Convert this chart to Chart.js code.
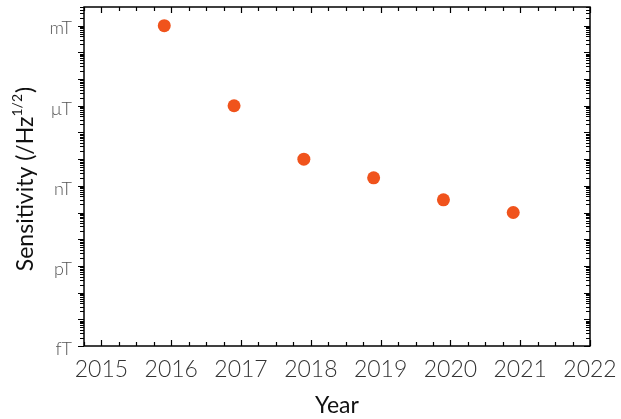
<!DOCTYPE html>
<html>
<head>
<meta charset="utf-8">
<script src="https://cdn.jsdelivr.net/npm/chart.js@4.4.1/dist/chart.umd.min.js"></script>
<style>
    html, body { margin: 0; padding: 0; background: #fff; }
    #wrap { width: 621px; height: 419px; position: relative; }
</style>
</head>
<body>
<div id="wrap"><canvas id="sensChart"></canvas></div>
<script>
// Data
const years = [2015.9, 2016.9, 2017.9, 2018.9, 2019.9, 2020.9];
const sensitivity = [1e-3, 1e-6, 1e-8, 2e-9, 3e-10, 1e-10];

const yearTicks = [2015, 2016, 2017, 2018, 2019, 2020, 2021, 2022];
const unitValues = [1e-15, 1e-12, 1e-9, 1e-6, 1e-3];
const unitLabels = ['fT', 'pT', 'nT', 'μT', 'mT'];

const X_MIN = 2014.75;
const X_MAX = 2022;
const Y_MIN = 1e-15;
const Y_MAX = 5e-3;

const POINT_COLOR = '#F0531C';
const FONT = "Lato, 'Open Sans', sans-serif";

// quarter-year ticks, labels only on whole years
function buildXTicks(scale) {
    const ticks = [];
    for (let i = 0; X_MIN + i * 0.25 <= X_MAX + 1e-9; i++) {
        ticks.push({ value: +(X_MIN + i * 0.25).toFixed(2) });
    }
    scale.ticks = ticks;
}

// 1..9 per decade, labels only on the unit decades
function buildYTicks(scale) {
    const ticks = [];
    for (let e = -15; e <= -3; e++) {
        for (let m = 1; m <= 9; m++) {
            const v = m * Math.pow(10, e);
            if (v > Y_MAX * 1.0001) break;
            ticks.push({ value: v, major: m === 1 });
        }
    }
    scale.ticks = ticks;
}

function unitFor(value) {
    for (let i = 0; i < unitValues.length; i++) {
        if (Math.abs(Math.log10(value) - Math.log10(unitValues[i])) < 1e-6) return unitLabels[i];
    }
    return '';
}

// frame, tick marks and the y title with its superscript
const framePlugin = {
    id: 'frame',
    afterDraw(chart) {
        const ctx = chart.ctx;
        const a = chart.chartArea;
        const xs = chart.scales.x;
        const ys = chart.scales.y;

        ctx.save();
        ctx.strokeStyle = '#000';
        ctx.lineWidth = 1.5;
        ctx.strokeRect(a.left, a.top, a.right - a.left, a.bottom - a.top);

        ctx.lineWidth = 1.2;
        ctx.beginPath();
        xs.ticks.forEach(t => {
            const px = Math.round(xs.getPixelForValue(t.value)) + 0.5;
            const len = Number.isInteger(t.value) ? 6 : 4;
            ctx.moveTo(px, a.bottom);
            ctx.lineTo(px, a.bottom - len);
            ctx.moveTo(px, a.top);
            ctx.lineTo(px, a.top + len);
        });
        ys.ticks.forEach(t => {
            const py = Math.round(ys.getPixelForValue(t.value)) + 0.5;
            const len = t.major ? 6 : 4;
            // left side: outward, right side: inward
            ctx.moveTo(a.left, py);
            ctx.lineTo(a.left - len, py);
            ctx.moveTo(a.right, py);
            ctx.lineTo(a.right - len, py);
        });
        ctx.stroke();

        // y title
        const main = 'Sensitivity (/Hz';
        const sup = '1/2';
        const end = ')';
        const bigFont = '23px ' + FONT;
        const smallFont = '14px ' + FONT;
        ctx.font = bigFont;
        const w1 = ctx.measureText(main).width;
        const w3 = ctx.measureText(end).width;
        ctx.font = smallFont;
        const w2 = ctx.measureText(sup).width;
        const total = w1 + w2 + w3 + 1;

        ctx.translate(26, 179);
        ctx.rotate(-Math.PI / 2);
        ctx.fillStyle = '#111';
        ctx.textBaseline = 'middle';
        ctx.textAlign = 'left';
        let x0 = -total / 2;
        ctx.font = bigFont;
        ctx.fillText(main, x0, 0);
        x0 += w1;
        ctx.font = smallFont;
        ctx.fillText(sup, x0, -9);
        x0 += w2 + 1;
        ctx.font = bigFont;
        ctx.fillText(end, x0, 0);
        ctx.restore();
    }
};

new Chart(document.getElementById('sensChart'), {
    type: 'scatter',
    data: {
        datasets: [{
            data: years.map((y, i) => ({ x: y, y: sensitivity[i] })),
            backgroundColor: POINT_COLOR,
            borderColor: POINT_COLOR,
            pointRadius: 6.5,
            pointHoverRadius: 6.5,
            borderWidth: 0
        }]
    },
    options: {
        responsive: true,
        maintainAspectRatio: false,
        animation: false,
        layout: {
            padding: { top: 7, right: 31, left: 0, bottom: 0 }
        },
        plugins: {
            legend: { display: false },
            tooltip: { enabled: false }
        },
        scales: {
            x: {
                type: 'linear',
                min: X_MIN,
                max: X_MAX,
                afterBuildTicks: buildXTicks,
                afterFit(scale) {
                    scale.height = 73;
                    scale.paddingLeft = 0;
                    scale.paddingRight = 0;
                },
                grid: { display: false, drawTicks: false },
                border: { display: false },
                ticks: {
                    autoSkip: false,
                    maxRotation: 0,
                    padding: 10,
                    color: '#333',
                    font: { family: FONT, size: 23, weight: 300 },
                    callback: v => yearTicks.includes(v) ? String(v) : ''
                },
                title: {
                    display: true,
                    text: 'Year',
                    color: '#111',
                    padding: { top: 2, bottom: 0 },
                    font: { family: FONT, size: 23 }
                }
            },
            y: {
                type: 'logarithmic',
                min: Y_MIN,
                max: Y_MAX,
                afterBuildTicks: buildYTicks,
                afterFit(scale) {
                    scale.width = 84;
                    scale.paddingTop = 0;
                    scale.paddingBottom = 0;
                },
                grid: { display: false, drawTicks: false },
                border: { display: false },
                ticks: {
                    autoSkip: false,
                    padding: 12,
                    labelOffset: 3,
                    color: '#555',
                    font: { family: FONT, size: 18, weight: 300 },
                    callback: v => unitFor(v)
                }
            }
        }
    },
    plugins: [framePlugin]
});
</script>
</body>
</html>
